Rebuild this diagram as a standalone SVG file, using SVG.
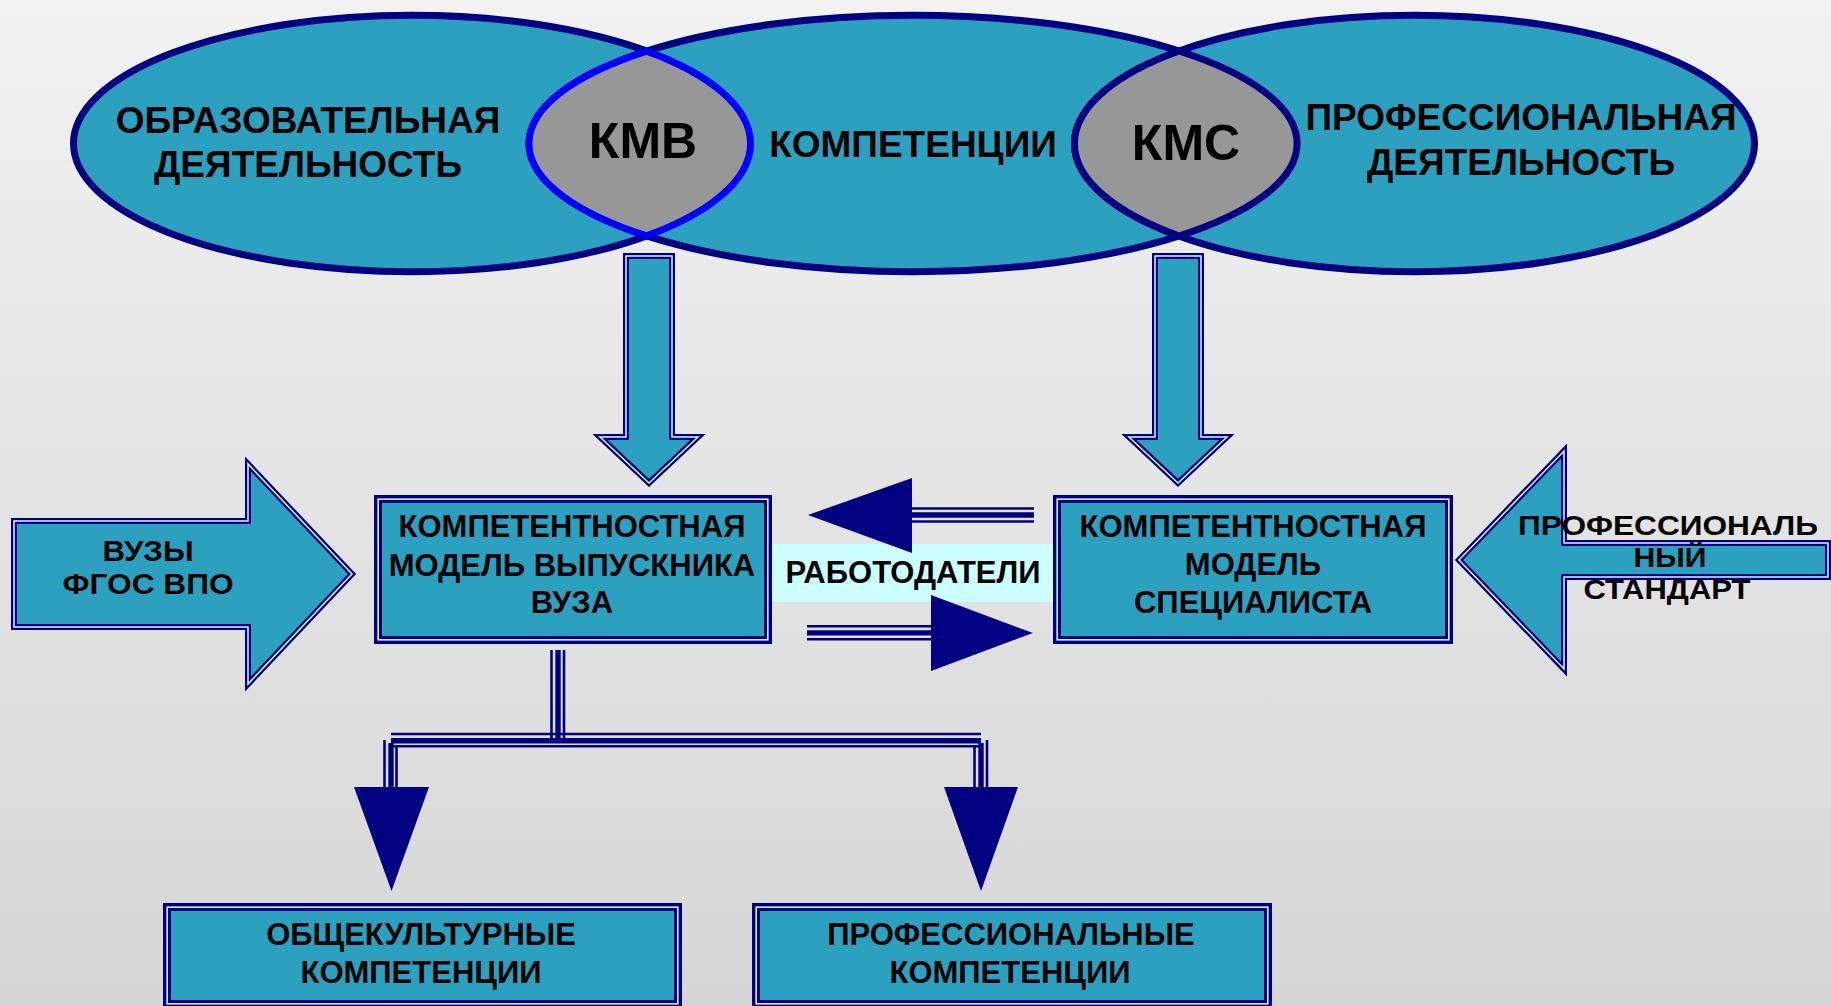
<svg xmlns="http://www.w3.org/2000/svg" width="1831" height="1006" viewBox="0 0 1831 1006">
<defs>
<linearGradient id="bg" x1="0" y1="0" x2="0" y2="1">
<stop offset="0" stop-color="#F2F2F2"/>
<stop offset="1" stop-color="#D6D6D6"/>
</linearGradient>
<style>
.ell{fill:#2CA1BF;stroke:#000080;stroke-width:7}
.lens{fill:#979797;stroke-width:7}
.blk{fill:#2CA1BF;stroke:#000080;stroke-width:6;stroke-linejoin:miter;stroke-miterlimit:10}
.blkl{fill:none;stroke:#D8F8FF;stroke-width:1.5;stroke-linejoin:miter;stroke-miterlimit:10}
.box{fill:#2CA1BF;stroke:#000080;stroke-width:8}
.boxl{fill:none;stroke:#CFF6FF;stroke-width:1.6}
.t{font-family:"Liberation Sans",Arial,sans-serif;font-weight:bold;fill:#000;text-anchor:middle}
.f37{font-size:37px}
.f50{font-size:50px}
.f31{font-size:31px}
.f29{font-size:29px}
.f28{font-size:28px}
.thin{stroke:#000080;stroke-width:2.6;fill:none}
.thick{stroke:#000080;stroke-width:5.4;fill:none}
.head{fill:#000080}
</style>
</defs>
<rect x="0" y="0" width="1831" height="1006" fill="url(#bg)"/>

<g id="ellipses">
<g id="obraz">
<ellipse class="ell" cx="412" cy="143.5" rx="338.5" ry="128.2"/>
</g>
<g id="kompetencii">
<ellipse class="ell" cx="913" cy="143.5" rx="384" ry="128.2"/>
</g>
<g id="prof">
<ellipse class="ell" cx="1414.5" cy="143.5" rx="340" ry="128.2"/>
</g>
<g id="kmv">
<path class="lens" stroke="#0000FF" d="M646.7,51.1 A338.5,128.2 0 0 1 646.7,235.9 A384,128.2 0 0 1 646.7,51.1 Z"/>
<text class="t f50" x="643" y="158">КМВ</text>
</g>
<g id="kms">
<path class="lens" stroke="#000080" d="M1179,51 A384,128.2 0 0 1 1179,236 A340,128.2 0 0 1 1179,51 Z"/>
<text class="t f50" x="1186" y="160">КМС</text>
</g>
<text class="t f37" x="308" y="133">ОБРАЗОВАТЕЛЬНАЯ</text>
<text class="t f37" x="308" y="177">ДЕЯТЕЛЬНОСТЬ</text>
<text class="t f37" x="913" y="157">КОМПЕТЕНЦИИ</text>
<text class="t f37" x="1521" y="130">ПРОФЕССИОНАЛЬНАЯ</text>
<text class="t f37" x="1521" y="175">ДЕЯТЕЛЬНОСТЬ</text>
</g>

<g id="connectors">
<g id="down-kmv">
<path class="blk" d="M626,256 H672 V437 H698 L649,483 L600,437 H626 Z"/>
<path class="blkl" d="M626,256 H672 V437 H698 L649,483 L600,437 H626 Z"/>
</g>
<g id="down-kms">
<path class="blk" d="M1155,256 H1201 V437 H1227 L1178,483 L1129,437 H1155 Z"/>
<path class="blkl" d="M1155,256 H1201 V437 H1227 L1178,483 L1129,437 H1155 Z"/>
</g>
<g id="to-spec-left">
<line class="thin" x1="912" y1="508.5" x2="1034" y2="508.5"/>
<line class="thick" x1="912" y1="515" x2="1034" y2="515"/>
<line class="thin" x1="912" y1="521.5" x2="1034" y2="521.5"/>
</g>
<g id="to-spec-right">
<line class="thin" x1="807" y1="626.2" x2="931" y2="626.2"/>
<line class="thick" x1="807" y1="632.9" x2="931" y2="632.9"/>
<line class="thin" x1="807" y1="639.2" x2="931" y2="639.2"/>
</g>
<g id="tree">
<line class="thin" x1="551.5" y1="650" x2="551.5" y2="738"/>
<line class="thick" x1="558" y1="650" x2="558" y2="738"/>
<line class="thin" x1="564" y1="650" x2="564" y2="738"/>
<line class="thin" x1="391" y1="734" x2="981" y2="734"/>
<line class="thick" x1="391" y1="740.8" x2="981" y2="740.8"/>
<line class="thin" x1="391" y1="746.2" x2="981" y2="746.2"/>
<line class="thin" x1="384.5" y1="740" x2="384.5" y2="788"/>
<line class="thick" x1="391" y1="743" x2="391" y2="788"/>
<line class="thin" x1="396.5" y1="746" x2="396.5" y2="788"/>
<line class="thin" x1="974.5" y1="746" x2="974.5" y2="788"/>
<line class="thick" x1="981" y1="743" x2="981" y2="788"/>
<line class="thin" x1="987" y1="740" x2="987" y2="788"/>
<polygon class="head" points="354,787 429,787 391.5,891"/>
<polygon class="head" points="944,787 1018,787 981,891"/>
</g>
</g>

<g id="rabotodateli">
<rect x="768" y="544" width="288" height="58" fill="#CCFFFF"/>
<text class="t f31" x="913" y="583">РАБОТОДАТЕЛИ</text>
</g>

<g id="arrow-heads-mid">
<polygon class="head" points="808,515 912,478 912,553"/>
<polygon class="head" points="1033,633 931,595 931,671"/>
</g>

<g id="vuzy">
<path class="blk" d="M14,521 H248 V464 L352,574 L248,684 V627 H14 Z"/>
<path class="blkl" d="M14,521 H248 V464 L352,574 L248,684 V627 H14 Z"/>
<text class="t f29" x="148" y="561" textLength="91" lengthAdjust="spacingAndGlyphs">ВУЗЫ</text>
<text class="t f29" x="148" y="594" textLength="171" lengthAdjust="spacingAndGlyphs">ФГОС ВПО</text>
</g>

<g id="standart">
<path class="blk" d="M1459,560 L1564,451 V543 H1828 V577 H1564 V669 Z"/>
<path class="blkl" d="M1459,560 L1564,451 V543 H1828 V577 H1564 V669 Z"/>
<text class="t f28" x="1668" y="535" textLength="300" lengthAdjust="spacingAndGlyphs">ПРОФЕССИОНАЛЬ</text>
<text class="t f28" x="1670" y="567" textLength="73" lengthAdjust="spacingAndGlyphs">НЫЙ</text>
<text class="t f28" x="1667" y="599" textLength="167" lengthAdjust="spacingAndGlyphs">СТАНДАРТ</text>
</g>

<g id="model-vypusknika">
<rect class="box" x="378" y="499" width="390" height="141"/>
<rect class="boxl" x="378.2" y="499.2" width="389.6" height="140.6"/>
<text class="t f31" x="572" y="537">КОМПЕТЕНТНОСТНАЯ</text>
<text class="t f31" x="572" y="576">МОДЕЛЬ ВЫПУСКНИКА</text>
<text class="t f31" x="572" y="613">ВУЗА</text>
</g>

<g id="model-specialista">
<rect class="box" x="1057" y="499" width="392" height="141"/>
<rect class="boxl" x="1057.2" y="499.2" width="391.6" height="140.6"/>
<text class="t f31" x="1253" y="537">КОМПЕТЕНТНОСТНАЯ</text>
<text class="t f31" x="1253" y="575">МОДЕЛЬ</text>
<text class="t f31" x="1253" y="613">СПЕЦИАЛИСТА</text>
</g>

<g id="obshchekult">
<rect class="box" x="167" y="907" width="511" height="97"/>
<rect class="boxl" x="167.2" y="907.2" width="510.6" height="96.6"/>
<text class="t f31" x="421" y="945">ОБЩЕКУЛЬТУРНЫЕ</text>
<text class="t f31" x="421" y="983">КОМПЕТЕНЦИИ</text>
</g>

<g id="professionalnye">
<rect class="box" x="756" y="907" width="512" height="97"/>
<rect class="boxl" x="756.2" y="907.2" width="511.6" height="96.6"/>
<text class="t f31" x="1011" y="945">ПРОФЕССИОНАЛЬНЫЕ</text>
<text class="t f31" x="1010" y="983">КОМПЕТЕНЦИИ</text>
</g>
</svg>
